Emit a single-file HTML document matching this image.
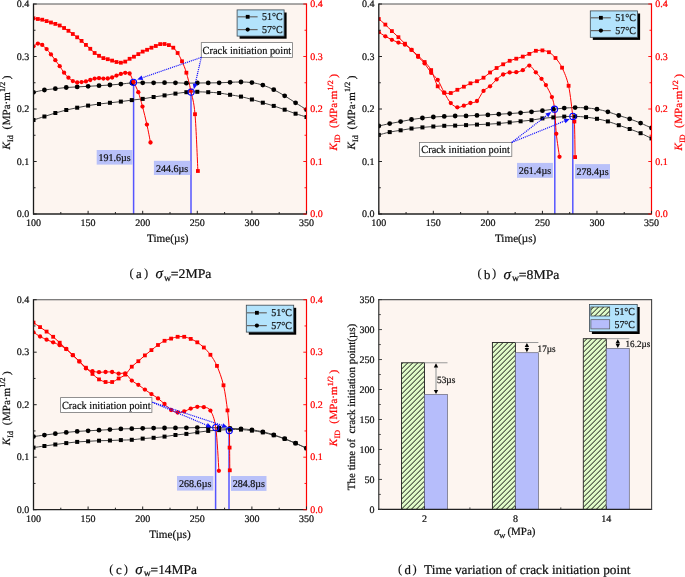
<!DOCTYPE html>
<html><head><meta charset="utf-8"><title>Crack initiation</title><style>html,body{margin:0;padding:0;background:#fff;}body{width:685px;height:577px;overflow:hidden;}svg{display:block;font-family:"Liberation Serif",serif;will-change:transform;text-rendering:geometricPrecision;}text{stroke:#111;stroke-width:0.22px;}text[fill="#ff0000"]{stroke:#ff0000;}</style></head><body>
<svg width="685" height="577" viewBox="0 0 685 577" font-family='"Liberation Serif", serif'>
<defs>
<clipPath id="clipa"><rect x="33.5" y="4" width="273" height="210"/></clipPath>
<clipPath id="clipb"><rect x="378.8" y="4" width="272.7" height="210"/></clipPath>
<clipPath id="clipc"><rect x="33.5" y="299.7" width="273" height="210"/></clipPath>
<pattern id="hatch" patternUnits="userSpaceOnUse" width="5" height="5" x="0" y="0.6"><rect width="5" height="5" fill="#e0fbc9"/><path d="M-1,1 L1,-1 M0,5 L5,0 M4,6 L6,4" stroke="#111" stroke-width="1.0"/></pattern>
</defs>
<rect width="685" height="577" fill="#fff"/>
<rect x="33.5" y="4" width="273" height="210" fill="#fdf5f0"/>
<line x1="133.6" y1="82.3" x2="133.6" y2="214" stroke="#5555ff" stroke-width="1.5"/>
<line x1="191" y1="92.1" x2="191" y2="214" stroke="#5555ff" stroke-width="1.5"/>
<g clip-path="url(#clipa)">
<path d="M33.5,120 C35.32,119.42 40.78,117.67 44.42,116.5 C48.06,115.33 51.7,114.08 55.34,113 C58.98,111.92 62.62,110.88 66.26,110 C69.9,109.12 73.54,108.43 77.18,107.7 C80.82,106.97 84.46,106.22 88.1,105.6 C91.74,104.98 95.38,104.47 99.02,104 C102.66,103.53 106.3,103.2 109.94,102.8 C113.58,102.4 117.22,102.05 120.86,101.6 C124.5,101.15 128.14,100.55 131.78,100.1 C135.42,99.65 139.06,99.42 142.7,98.9 C146.34,98.38 149.98,97.58 153.62,97 C157.26,96.42 160.9,95.97 164.54,95.4 C168.18,94.83 171.82,94.13 175.46,93.6 C179.1,93.07 182.74,92.5 186.38,92.2 C190.02,91.9 193.66,91.8 197.3,91.8 C200.94,91.8 204.58,92 208.22,92.2 C211.86,92.4 215.5,92.57 219.14,93 C222.78,93.43 226.42,94.2 230.06,94.8 C233.7,95.4 237.34,95.82 240.98,96.6 C244.62,97.38 248.26,98.48 251.9,99.5 C255.54,100.52 259.18,101.63 262.82,102.7 C266.46,103.77 270.1,104.73 273.74,105.9 C277.38,107.07 281.02,108.4 284.66,109.7 C288.3,111 291.94,112.48 295.58,113.7 C299.22,114.92 304.68,116.45 306.5,117" fill="none" stroke="#444444" stroke-width="1"/>
<path d="M33.5,92.3 C35.32,91.92 40.78,90.6 44.42,90 C48.06,89.4 51.7,89.12 55.34,88.7 C58.98,88.28 62.62,87.8 66.26,87.5 C69.9,87.2 73.54,87.1 77.18,86.9 C80.82,86.7 84.46,86.5 88.1,86.3 C91.74,86.1 95.38,85.92 99.02,85.7 C102.66,85.48 106.3,85.27 109.94,85 C113.58,84.73 117.22,84.45 120.86,84.1 C124.5,83.75 128.14,83.12 131.78,82.9 C135.42,82.68 139.06,82.82 142.7,82.8 C146.34,82.78 149.98,82.82 153.62,82.8 C157.26,82.78 160.9,82.7 164.54,82.7 C168.18,82.7 171.82,82.72 175.46,82.8 C179.1,82.88 182.74,83.17 186.38,83.2 C190.02,83.23 193.66,83.05 197.3,83 C200.94,82.95 204.58,82.93 208.22,82.9 C211.86,82.87 215.5,82.9 219.14,82.8 C222.78,82.7 226.42,82.43 230.06,82.3 C233.7,82.17 237.34,81.95 240.98,82 C244.62,82.05 248.26,82.08 251.9,82.6 C255.54,83.12 259.18,83.92 262.82,85.1 C266.46,86.28 270.1,87.92 273.74,89.7 C277.38,91.48 281.02,93.62 284.66,95.8 C288.3,97.98 291.94,100.48 295.58,102.8 C299.22,105.12 304.68,108.55 306.5,109.7" fill="none" stroke="#444444" stroke-width="1"/>
<path d="M33.5,18.3 C34.23,18.42 36.41,18.77 37.87,19 C39.32,19.23 40.78,19.35 42.24,19.7 C43.69,20.05 45.15,20.63 46.6,21.1 C48.06,21.57 49.52,22.03 50.97,22.5 C52.43,22.97 53.88,23.4 55.34,23.9 C56.8,24.4 58.25,24.82 59.71,25.5 C61.16,26.18 62.62,27.12 64.08,28 C65.53,28.88 66.99,29.8 68.44,30.8 C69.9,31.8 71.36,32.92 72.81,34 C74.27,35.08 75.72,36.15 77.18,37.3 C78.64,38.45 80.09,39.63 81.55,40.9 C83,42.17 84.46,43.58 85.92,44.9 C87.37,46.22 88.83,47.45 90.28,48.8 C91.74,50.15 93.2,51.83 94.65,53 C96.11,54.17 97.56,54.95 99.02,55.8 C100.48,56.65 101.93,57.53 103.39,58.1 C104.84,58.67 106.3,58.78 107.76,59.2 C109.21,59.62 110.67,60.13 112.12,60.6 C113.58,61.07 115.04,61.65 116.49,62 C117.95,62.35 119.4,62.77 120.86,62.7 C122.32,62.63 123.77,62.25 125.23,61.6 C126.68,60.95 128.14,59.62 129.6,58.8 C131.05,57.98 132.51,57.48 133.96,56.7 C135.42,55.92 136.88,54.95 138.33,54.1 C139.79,53.25 141.24,52.32 142.7,51.6 C144.16,50.88 145.61,50.45 147.07,49.8 C148.52,49.15 149.98,48.33 151.44,47.7 C152.89,47.07 154.35,46.6 155.8,46 C157.26,45.4 158.72,44.43 160.17,44.1 C161.63,43.77 163.08,43.83 164.54,44 C166,44.17 167.45,44.48 168.91,45.1 C170.36,45.72 171.82,46.38 173.28,47.7 C174.73,49.02 176.19,50.73 177.64,53 C179.1,55.27 180.56,58.02 182.01,61.3 C183.47,64.58 184.92,67.82 186.38,72.7 C187.84,77.58 189.36,83.68 190.8,90.6 C192.24,97.52 193.82,100.8 195,114.2 C196.18,127.6 197.42,161.53 197.9,171" fill="none" stroke="#ff0000" stroke-width="1"/>
<path d="M33.5,46.3 C34.23,45.85 36.41,43.83 37.87,43.6 C39.32,43.37 40.78,43.98 42.24,44.9 C43.69,45.82 45.15,47.52 46.6,49.1 C48.06,50.68 49.52,52.55 50.97,54.4 C52.43,56.25 53.88,58.23 55.34,60.2 C56.8,62.17 58.25,64.12 59.71,66.2 C61.16,68.28 62.62,70.78 64.08,72.7 C65.53,74.62 66.99,76.3 68.44,77.7 C69.9,79.1 71.36,80.3 72.81,81.1 C74.27,81.9 75.72,82.33 77.18,82.5 C78.64,82.67 80.09,82.28 81.55,82.1 C83,81.92 84.46,81.75 85.92,81.4 C87.37,81.05 88.83,80.47 90.28,80 C91.74,79.53 93.2,78.9 94.65,78.6 C96.11,78.3 97.56,78.2 99.02,78.2 C100.48,78.2 101.93,78.55 103.39,78.6 C104.84,78.65 106.3,78.68 107.76,78.5 C109.21,78.32 110.67,77.98 112.12,77.5 C113.58,77.02 115.04,76.2 116.49,75.6 C117.95,75 119.4,74.37 120.86,73.9 C122.32,73.43 123.77,72.87 125.23,72.8 C126.68,72.73 128.22,71.98 129.6,73.5 C130.97,75.02 132.05,78.78 133.5,81.9 C134.95,85.02 136.8,88.08 138.3,92.2 C139.8,96.32 141.07,101.2 142.5,106.6 C143.93,112 145.57,118.62 146.9,124.6 C148.23,130.58 149.9,139.52 150.5,142.5" fill="none" stroke="#ff0000" stroke-width="1"/>
<g fill="#000"><rect x="31.5" y="118" width="4" height="4"/><rect x="42.42" y="114.5" width="4" height="4"/><rect x="53.34" y="111" width="4" height="4"/><rect x="64.26" y="108" width="4" height="4"/><rect x="75.18" y="105.7" width="4" height="4"/><rect x="86.1" y="103.6" width="4" height="4"/><rect x="97.02" y="102" width="4" height="4"/><rect x="107.94" y="100.8" width="4" height="4"/><rect x="118.86" y="99.6" width="4" height="4"/><rect x="129.78" y="98.1" width="4" height="4"/><rect x="140.7" y="96.9" width="4" height="4"/><rect x="151.62" y="95" width="4" height="4"/><rect x="162.54" y="93.4" width="4" height="4"/><rect x="173.46" y="91.6" width="4" height="4"/><rect x="184.38" y="90.2" width="4" height="4"/><rect x="195.3" y="89.8" width="4" height="4"/><rect x="206.22" y="90.2" width="4" height="4"/><rect x="217.14" y="91" width="4" height="4"/><rect x="228.06" y="92.8" width="4" height="4"/><rect x="238.98" y="94.6" width="4" height="4"/><rect x="249.9" y="97.5" width="4" height="4"/><rect x="260.82" y="100.7" width="4" height="4"/><rect x="271.74" y="103.9" width="4" height="4"/><rect x="282.66" y="107.7" width="4" height="4"/><rect x="293.58" y="111.7" width="4" height="4"/><rect x="304.5" y="115" width="4" height="4"/><circle cx="33.5" cy="92.3" r="2.4"/><circle cx="44.42" cy="90" r="2.4"/><circle cx="55.34" cy="88.7" r="2.4"/><circle cx="66.26" cy="87.5" r="2.4"/><circle cx="77.18" cy="86.9" r="2.4"/><circle cx="88.1" cy="86.3" r="2.4"/><circle cx="99.02" cy="85.7" r="2.4"/><circle cx="109.94" cy="85" r="2.4"/><circle cx="120.86" cy="84.1" r="2.4"/><circle cx="131.78" cy="82.9" r="2.4"/><circle cx="142.7" cy="82.8" r="2.4"/><circle cx="153.62" cy="82.8" r="2.4"/><circle cx="164.54" cy="82.7" r="2.4"/><circle cx="175.46" cy="82.8" r="2.4"/><circle cx="186.38" cy="83.2" r="2.4"/><circle cx="197.3" cy="83" r="2.4"/><circle cx="208.22" cy="82.9" r="2.4"/><circle cx="219.14" cy="82.8" r="2.4"/><circle cx="230.06" cy="82.3" r="2.4"/><circle cx="240.98" cy="82" r="2.4"/><circle cx="251.9" cy="82.6" r="2.4"/><circle cx="262.82" cy="85.1" r="2.4"/><circle cx="273.74" cy="89.7" r="2.4"/><circle cx="284.66" cy="95.8" r="2.4"/><circle cx="295.58" cy="102.8" r="2.4"/><circle cx="306.5" cy="109.7" r="2.4"/></g>
<g fill="#ff0000"><rect x="31.6" y="16.4" width="3.8" height="3.8"/><rect x="35.97" y="17.1" width="3.8" height="3.8"/><rect x="40.34" y="17.8" width="3.8" height="3.8"/><rect x="44.7" y="19.2" width="3.8" height="3.8"/><rect x="49.07" y="20.6" width="3.8" height="3.8"/><rect x="53.44" y="22" width="3.8" height="3.8"/><rect x="57.81" y="23.6" width="3.8" height="3.8"/><rect x="62.18" y="26.1" width="3.8" height="3.8"/><rect x="66.54" y="28.9" width="3.8" height="3.8"/><rect x="70.91" y="32.1" width="3.8" height="3.8"/><rect x="75.28" y="35.4" width="3.8" height="3.8"/><rect x="79.65" y="39" width="3.8" height="3.8"/><rect x="84.02" y="43" width="3.8" height="3.8"/><rect x="88.38" y="46.9" width="3.8" height="3.8"/><rect x="92.75" y="51.1" width="3.8" height="3.8"/><rect x="97.12" y="53.9" width="3.8" height="3.8"/><rect x="101.49" y="56.2" width="3.8" height="3.8"/><rect x="105.86" y="57.3" width="3.8" height="3.8"/><rect x="110.22" y="58.7" width="3.8" height="3.8"/><rect x="114.59" y="60.1" width="3.8" height="3.8"/><rect x="118.96" y="60.8" width="3.8" height="3.8"/><rect x="123.33" y="59.7" width="3.8" height="3.8"/><rect x="127.7" y="56.9" width="3.8" height="3.8"/><rect x="132.06" y="54.8" width="3.8" height="3.8"/><rect x="136.43" y="52.2" width="3.8" height="3.8"/><rect x="140.8" y="49.7" width="3.8" height="3.8"/><rect x="145.17" y="47.9" width="3.8" height="3.8"/><rect x="149.54" y="45.8" width="3.8" height="3.8"/><rect x="153.9" y="44.1" width="3.8" height="3.8"/><rect x="158.27" y="42.2" width="3.8" height="3.8"/><rect x="162.64" y="42.1" width="3.8" height="3.8"/><rect x="167.01" y="43.2" width="3.8" height="3.8"/><rect x="171.38" y="45.8" width="3.8" height="3.8"/><rect x="175.74" y="51.1" width="3.8" height="3.8"/><rect x="180.11" y="59.4" width="3.8" height="3.8"/><rect x="184.48" y="70.8" width="3.8" height="3.8"/><rect x="188.9" y="88.7" width="3.8" height="3.8"/><rect x="193.1" y="112.3" width="3.8" height="3.8"/><rect x="196" y="169.1" width="3.8" height="3.8"/><circle cx="33.5" cy="46.3" r="2.15"/><circle cx="37.87" cy="43.6" r="2.15"/><circle cx="42.24" cy="44.9" r="2.15"/><circle cx="46.6" cy="49.1" r="2.15"/><circle cx="50.97" cy="54.4" r="2.15"/><circle cx="55.34" cy="60.2" r="2.15"/><circle cx="59.71" cy="66.2" r="2.15"/><circle cx="64.08" cy="72.7" r="2.15"/><circle cx="68.44" cy="77.7" r="2.15"/><circle cx="72.81" cy="81.1" r="2.15"/><circle cx="77.18" cy="82.5" r="2.15"/><circle cx="81.55" cy="82.1" r="2.15"/><circle cx="85.92" cy="81.4" r="2.15"/><circle cx="90.28" cy="80" r="2.15"/><circle cx="94.65" cy="78.6" r="2.15"/><circle cx="99.02" cy="78.2" r="2.15"/><circle cx="103.39" cy="78.6" r="2.15"/><circle cx="107.76" cy="78.5" r="2.15"/><circle cx="112.12" cy="77.5" r="2.15"/><circle cx="116.49" cy="75.6" r="2.15"/><circle cx="120.86" cy="73.9" r="2.15"/><circle cx="125.23" cy="72.8" r="2.15"/><circle cx="129.6" cy="73.5" r="2.15"/><circle cx="133.5" cy="81.9" r="2.15"/><circle cx="138.3" cy="92.2" r="2.15"/><circle cx="142.5" cy="106.6" r="2.15"/><circle cx="146.9" cy="124.6" r="2.15"/><circle cx="150.5" cy="142.5" r="2.15"/></g>
</g>
<circle cx="133.5" cy="82.3" r="3.1" fill="none" stroke="#0000ff" stroke-width="1.1"/>
<circle cx="191.1" cy="92.1" r="3.1" fill="none" stroke="#0000ff" stroke-width="1.1"/>
<rect x="96.7" y="150" width="35.9" height="14.6" fill="#b9c1f9"/>
<text x="114.65" y="161.1" font-size="10.3" text-anchor="middle" fill="#111" textLength="32.2" lengthAdjust="spacingAndGlyphs">191.6µs</text>
<rect x="153.9" y="160.8" width="36.3" height="14.2" fill="#b9c1f9"/>
<text x="172.05" y="171.5" font-size="10.3" text-anchor="middle" fill="#111" textLength="32.2" lengthAdjust="spacingAndGlyphs">244.6µs</text>
<rect x="201.3" y="42.6" width="91.2" height="14.8" fill="#fff" stroke="#777" stroke-width="0.8"/>
<text x="246.9" y="53.9" font-size="10.9" text-anchor="middle" fill="#111" textLength="88.6" lengthAdjust="spacingAndGlyphs">Crack initiation point</text>
<line x1="201.3" y1="57.4" x2="142.4" y2="77.71" stroke="#1010ff" stroke-width="1.2" stroke-dasharray="1.1,0.9"/>
<polygon points="137.2,79.5 141.62,75.44 143.18,79.98" fill="#1111ff"/>
<line x1="201.3" y1="57.4" x2="195.14" y2="83.94" stroke="#1010ff" stroke-width="1.2" stroke-dasharray="1.1,0.9"/>
<polygon points="193.9,89.3 192.8,83.4 197.48,84.48" fill="#1111ff"/>
<rect x="239.6" y="12.5" width="47" height="26.2" fill="#000"/>
<rect x="237.1" y="9.9" width="47" height="26.2" fill="#b3e3fc" stroke="#3c4850" stroke-width="0.8"/>
<line x1="237.6" y1="16.8" x2="257.6" y2="16.8" stroke="#666" stroke-width="1.2"/>
<line x1="237.6" y1="29.6" x2="257.6" y2="29.6" stroke="#666" stroke-width="1.2"/>
<rect x="245.8" y="14.9" width="3.8" height="3.8" fill="#000"/>
<circle cx="247.7" cy="29.6" r="2.1" fill="#000"/>
<text x="262.1" y="20.4" font-size="10.6" text-anchor="start" fill="#111" textLength="20.6" lengthAdjust="spacingAndGlyphs">51°C</text>
<text x="262.1" y="33.2" font-size="10.6" text-anchor="start" fill="#111" textLength="20.6" lengthAdjust="spacingAndGlyphs">57°C</text>
<line x1="33.5" y1="4" x2="306.5" y2="4" stroke="#555" stroke-width="1.1"/>
<line x1="33.5" y1="3.5" x2="33.5" y2="214.5" stroke="#1a1a1a" stroke-width="1.3"/>
<line x1="33" y1="214" x2="306.5" y2="214" stroke="#222" stroke-width="1.3"/>
<line x1="306.5" y1="3.5" x2="306.5" y2="214.5" stroke="#ff0000" stroke-width="1.2"/>
<line x1="33.5" y1="214" x2="33.5" y2="210.8" stroke="#222" stroke-width="1"/>
<text x="33.5" y="226" font-size="10" text-anchor="middle" fill="#111" >100</text>
<line x1="60.8" y1="214" x2="60.8" y2="212" stroke="#222" stroke-width="1"/>
<line x1="88.1" y1="214" x2="88.1" y2="210.8" stroke="#222" stroke-width="1"/>
<text x="88.1" y="226" font-size="10" text-anchor="middle" fill="#111" >150</text>
<line x1="115.4" y1="214" x2="115.4" y2="212" stroke="#222" stroke-width="1"/>
<line x1="142.7" y1="214" x2="142.7" y2="210.8" stroke="#222" stroke-width="1"/>
<text x="142.7" y="226" font-size="10" text-anchor="middle" fill="#111" >200</text>
<line x1="170" y1="214" x2="170" y2="212" stroke="#222" stroke-width="1"/>
<line x1="197.3" y1="214" x2="197.3" y2="210.8" stroke="#222" stroke-width="1"/>
<text x="197.3" y="226" font-size="10" text-anchor="middle" fill="#111" >250</text>
<line x1="224.6" y1="214" x2="224.6" y2="212" stroke="#222" stroke-width="1"/>
<line x1="251.9" y1="214" x2="251.9" y2="210.8" stroke="#222" stroke-width="1"/>
<text x="251.9" y="226" font-size="10" text-anchor="middle" fill="#111" >300</text>
<line x1="279.2" y1="214" x2="279.2" y2="212" stroke="#222" stroke-width="1"/>
<line x1="306.5" y1="214" x2="306.5" y2="210.8" stroke="#222" stroke-width="1"/>
<text x="306.5" y="226" font-size="10" text-anchor="middle" fill="#111" >350</text>
<line x1="33.5" y1="214" x2="36.7" y2="214" stroke="#222" stroke-width="1"/>
<line x1="306.5" y1="214" x2="303.3" y2="214" stroke="#ff0000" stroke-width="0.9"/>
<text x="29.3" y="217.2" font-size="10" text-anchor="end" fill="#111" >0.0</text>
<text x="310.3" y="217.2" font-size="10" text-anchor="start" fill="#ff0000" >0.0</text>
<line x1="33.5" y1="187.75" x2="35.5" y2="187.75" stroke="#222" stroke-width="1"/>
<line x1="306.5" y1="187.75" x2="304.5" y2="187.75" stroke="#ff0000" stroke-width="0.9"/>
<line x1="33.5" y1="161.5" x2="36.7" y2="161.5" stroke="#222" stroke-width="1"/>
<line x1="306.5" y1="161.5" x2="303.3" y2="161.5" stroke="#ff0000" stroke-width="0.9"/>
<text x="29.3" y="164.7" font-size="10" text-anchor="end" fill="#111" >0.1</text>
<text x="310.3" y="164.7" font-size="10" text-anchor="start" fill="#ff0000" >0.1</text>
<line x1="33.5" y1="135.25" x2="35.5" y2="135.25" stroke="#222" stroke-width="1"/>
<line x1="306.5" y1="135.25" x2="304.5" y2="135.25" stroke="#ff0000" stroke-width="0.9"/>
<line x1="33.5" y1="109" x2="36.7" y2="109" stroke="#222" stroke-width="1"/>
<line x1="306.5" y1="109" x2="303.3" y2="109" stroke="#ff0000" stroke-width="0.9"/>
<text x="29.3" y="112.2" font-size="10" text-anchor="end" fill="#111" >0.2</text>
<text x="310.3" y="112.2" font-size="10" text-anchor="start" fill="#ff0000" >0.2</text>
<line x1="33.5" y1="82.75" x2="35.5" y2="82.75" stroke="#222" stroke-width="1"/>
<line x1="306.5" y1="82.75" x2="304.5" y2="82.75" stroke="#ff0000" stroke-width="0.9"/>
<line x1="33.5" y1="56.5" x2="36.7" y2="56.5" stroke="#222" stroke-width="1"/>
<line x1="306.5" y1="56.5" x2="303.3" y2="56.5" stroke="#ff0000" stroke-width="0.9"/>
<text x="29.3" y="59.7" font-size="10" text-anchor="end" fill="#111" >0.3</text>
<text x="310.3" y="59.7" font-size="10" text-anchor="start" fill="#ff0000" >0.3</text>
<line x1="33.5" y1="30.25" x2="35.5" y2="30.25" stroke="#222" stroke-width="1"/>
<line x1="306.5" y1="30.25" x2="304.5" y2="30.25" stroke="#ff0000" stroke-width="0.9"/>
<line x1="33.5" y1="4" x2="36.7" y2="4" stroke="#222" stroke-width="1"/>
<line x1="306.5" y1="4" x2="303.3" y2="4" stroke="#ff0000" stroke-width="0.9"/>
<text x="29.3" y="7.2" font-size="10" text-anchor="end" fill="#111" >0.4</text>
<text x="310.3" y="7.2" font-size="10" text-anchor="start" fill="#ff0000" >0.4</text>
<text x="167.8" y="242.3" font-size="11.4" text-anchor="middle" fill="#111" textLength="41.4" lengthAdjust="spacingAndGlyphs">Time(µs)</text>
<g transform="translate(9.6,112.6) rotate(-90)"><text x="0" y="0" font-size="11" text-anchor="middle" fill="#111"><tspan font-style="italic">K</tspan><tspan font-size="8" dy="3.2" dx="0.3">Id</tspan><tspan dy="-3.2" dx="5.8">(</tspan><tspan dx="0.6">MPa·m</tspan><tspan font-size="8" dy="-4.6" dx="0.3">1/2</tspan><tspan dy="4.6" dx="2.4">)</tspan></text></g>
<g transform="translate(337.2,112.3) rotate(-90)"><text x="0" y="0" font-size="11" text-anchor="middle" fill="#ff0000"><tspan font-style="italic">K</tspan><tspan font-size="8" dy="3.2" dx="0.3">ID</tspan><tspan dy="-3.2" dx="6.4">(</tspan><tspan dx="0.6">MPa·m</tspan><tspan font-size="8" dy="-4.6" dx="0.3">1/2</tspan><tspan dy="4.6" dx="2.4">)</tspan></text></g>
<rect x="378.8" y="4" width="272.7" height="210" fill="#fdf5f0"/>
<line x1="554.8" y1="109.2" x2="554.8" y2="214" stroke="#5555ff" stroke-width="1.5"/>
<line x1="572.8" y1="116.4" x2="572.8" y2="214" stroke="#5555ff" stroke-width="1.5"/>
<g clip-path="url(#clipb)">
<path d="M378.8,134.9 C380.62,134.43 386.07,132.87 389.71,132.1 C393.34,131.33 396.98,130.9 400.62,130.3 C404.25,129.7 407.89,128.98 411.52,128.5 C415.16,128.02 418.8,127.73 422.43,127.4 C426.07,127.07 429.7,126.77 433.34,126.5 C436.98,126.23 440.61,125.95 444.25,125.8 C447.88,125.65 451.52,125.72 455.16,125.6 C458.79,125.48 462.43,125.27 466.06,125.1 C469.7,124.93 473.34,124.75 476.97,124.6 C480.61,124.45 484.24,124.38 487.88,124.2 C491.52,124.02 495.15,123.8 498.79,123.5 C502.42,123.2 506.06,122.77 509.7,122.4 C513.33,122.03 516.97,121.67 520.6,121.3 C524.24,120.93 527.88,120.68 531.51,120.2 C535.15,119.72 538.78,118.87 542.42,118.4 C546.06,117.93 549.69,117.7 553.33,117.4 C556.96,117.1 560.6,116.77 564.24,116.6 C567.87,116.43 571.51,116.32 575.14,116.4 C578.78,116.48 582.42,116.7 586.05,117.1 C589.69,117.5 593.32,118.08 596.96,118.8 C600.6,119.52 604.23,120.33 607.87,121.4 C611.5,122.47 615.14,123.93 618.78,125.2 C622.41,126.47 626.05,127.67 629.68,129 C633.32,130.33 636.96,131.63 640.59,133.2 C644.23,134.77 649.68,137.53 651.5,138.4" fill="none" stroke="#444444" stroke-width="1"/>
<path d="M378.8,126 C380.62,125.6 386.07,124.33 389.71,123.6 C393.34,122.87 396.98,122.28 400.62,121.6 C404.25,120.92 407.89,120.1 411.52,119.5 C415.16,118.9 418.8,118.42 422.43,118 C426.07,117.58 429.7,117.27 433.34,117 C436.98,116.73 440.61,116.57 444.25,116.4 C447.88,116.23 451.52,116.08 455.16,116 C458.79,115.92 462.43,116 466.06,115.9 C469.7,115.8 473.34,115.57 476.97,115.4 C480.61,115.23 484.24,115.1 487.88,114.9 C491.52,114.7 495.15,114.42 498.79,114.2 C502.42,113.98 506.06,113.83 509.7,113.6 C513.33,113.37 516.97,113.1 520.6,112.8 C524.24,112.5 527.88,112.15 531.51,111.8 C535.15,111.45 538.78,111.13 542.42,110.7 C546.06,110.27 549.69,109.63 553.33,109.2 C556.96,108.77 560.6,108.37 564.24,108.1 C567.87,107.83 571.51,107.63 575.14,107.6 C578.78,107.57 582.42,107.63 586.05,107.9 C589.69,108.17 593.32,108.55 596.96,109.2 C600.6,109.85 604.23,110.75 607.87,111.8 C611.5,112.85 615.14,114.32 618.78,115.5 C622.41,116.68 626.05,117.63 629.68,118.9 C633.32,120.17 636.96,121.58 640.59,123.1 C644.23,124.62 649.68,127.18 651.5,128" fill="none" stroke="#444444" stroke-width="1"/>
<path d="M378.8,19 C379.89,19.93 383.16,22.58 385.34,24.6 C387.53,26.62 389.71,29 391.89,31.1 C394.07,33.2 396.25,35.1 398.43,37.2 C400.62,39.3 402.8,41.6 404.98,43.7 C407.16,45.8 409.34,47.78 411.52,49.8 C413.71,51.82 415.89,53.77 418.07,55.8 C420.25,57.83 422.43,59.62 424.61,62 C426.8,64.38 428.98,66.05 431.16,70.1 C433.34,74.15 435.52,82.53 437.7,86.3 C439.88,90.07 442.07,91.58 444.25,92.7 C446.43,93.82 448.61,93.48 450.79,93 C452.97,92.52 455.16,90.85 457.34,89.8 C459.52,88.75 461.7,87.78 463.88,86.7 C466.06,85.62 468.25,84.22 470.43,83.3 C472.61,82.38 474.79,82.13 476.97,81.2 C479.15,80.27 481.34,79.15 483.52,77.7 C485.7,76.25 487.88,74.12 490.06,72.5 C492.24,70.88 494.42,69.37 496.61,68 C498.79,66.63 500.97,65.5 503.15,64.3 C505.33,63.1 507.51,61.73 509.7,60.8 C511.88,59.87 514.06,59.4 516.24,58.7 C518.42,58 520.6,57.4 522.79,56.6 C524.97,55.8 527.15,54.87 529.33,53.9 C531.51,52.93 533.69,51.38 535.88,50.8 C538.06,50.22 540.24,50.17 542.42,50.4 C544.6,50.63 546.78,50.93 548.96,52.2 C551.15,53.47 553.33,55.42 555.51,58 C557.69,60.58 559.87,63.07 562.05,67.7 C564.24,72.33 566.79,77.68 568.6,85.8 C570.41,93.92 571.93,110.45 572.9,116.4 C573.87,122.35 574.03,114.72 574.4,121.5 C574.77,128.28 574.98,151.17 575.1,157.1" fill="none" stroke="#ff0000" stroke-width="1"/>
<path d="M378.8,32.2 C379.89,32.88 383.16,35.03 385.34,36.3 C387.53,37.57 389.71,38.75 391.89,39.8 C394.07,40.85 396.25,41.78 398.43,42.6 C400.62,43.42 402.8,43.5 404.98,44.7 C407.16,45.9 409.34,47.77 411.52,49.8 C413.71,51.83 415.89,54.63 418.07,56.9 C420.25,59.17 422.43,60.73 424.61,63.4 C426.8,66.07 428.98,70.17 431.16,72.9 C433.34,75.63 435.52,76.5 437.7,79.8 C439.88,83.1 442.07,88.82 444.25,92.7 C446.43,96.58 448.61,100.67 450.79,103.1 C452.97,105.53 455.16,106.87 457.34,107.3 C459.52,107.73 461.7,106.42 463.88,105.7 C466.06,104.98 468.25,103.78 470.43,103 C472.61,102.22 474.79,103.02 476.97,101 C479.15,98.98 481.34,93.35 483.52,90.9 C485.7,88.45 487.88,88.22 490.06,86.3 C492.24,84.38 494.42,81.37 496.61,79.4 C498.79,77.43 500.97,75.67 503.15,74.5 C505.33,73.33 507.51,72.78 509.7,72.4 C511.88,72.02 514.06,72.57 516.24,72.2 C518.42,71.83 520.6,71.3 522.79,70.2 C524.97,69.1 527.16,65.25 529.33,65.6 C531.5,65.95 533.77,70.1 535.8,72.3 C537.83,74.5 539.82,76.67 541.5,78.8 C543.18,80.93 544.17,82.05 545.9,85.1 C547.63,88.15 550.45,93.08 551.9,97.1 C553.35,101.12 553.87,103.08 554.6,109.2 C555.33,115.32 555.48,125.87 556.3,133.8 C557.12,141.73 558.97,152.97 559.5,156.8" fill="none" stroke="#ff0000" stroke-width="1"/>
<g fill="#000"><rect x="376.8" y="132.9" width="4" height="4"/><rect x="387.71" y="130.1" width="4" height="4"/><rect x="398.62" y="128.3" width="4" height="4"/><rect x="409.52" y="126.5" width="4" height="4"/><rect x="420.43" y="125.4" width="4" height="4"/><rect x="431.34" y="124.5" width="4" height="4"/><rect x="442.25" y="123.8" width="4" height="4"/><rect x="453.16" y="123.6" width="4" height="4"/><rect x="464.06" y="123.1" width="4" height="4"/><rect x="474.97" y="122.6" width="4" height="4"/><rect x="485.88" y="122.2" width="4" height="4"/><rect x="496.79" y="121.5" width="4" height="4"/><rect x="507.7" y="120.4" width="4" height="4"/><rect x="518.6" y="119.3" width="4" height="4"/><rect x="529.51" y="118.2" width="4" height="4"/><rect x="540.42" y="116.4" width="4" height="4"/><rect x="551.33" y="115.4" width="4" height="4"/><rect x="562.24" y="114.6" width="4" height="4"/><rect x="573.14" y="114.4" width="4" height="4"/><rect x="584.05" y="115.1" width="4" height="4"/><rect x="594.96" y="116.8" width="4" height="4"/><rect x="605.87" y="119.4" width="4" height="4"/><rect x="616.78" y="123.2" width="4" height="4"/><rect x="627.68" y="127" width="4" height="4"/><rect x="638.59" y="131.2" width="4" height="4"/><rect x="649.5" y="136.4" width="4" height="4"/><circle cx="378.8" cy="126" r="2.4"/><circle cx="389.71" cy="123.6" r="2.4"/><circle cx="400.62" cy="121.6" r="2.4"/><circle cx="411.52" cy="119.5" r="2.4"/><circle cx="422.43" cy="118" r="2.4"/><circle cx="433.34" cy="117" r="2.4"/><circle cx="444.25" cy="116.4" r="2.4"/><circle cx="455.16" cy="116" r="2.4"/><circle cx="466.06" cy="115.9" r="2.4"/><circle cx="476.97" cy="115.4" r="2.4"/><circle cx="487.88" cy="114.9" r="2.4"/><circle cx="498.79" cy="114.2" r="2.4"/><circle cx="509.7" cy="113.6" r="2.4"/><circle cx="520.6" cy="112.8" r="2.4"/><circle cx="531.51" cy="111.8" r="2.4"/><circle cx="542.42" cy="110.7" r="2.4"/><circle cx="553.33" cy="109.2" r="2.4"/><circle cx="564.24" cy="108.1" r="2.4"/><circle cx="575.14" cy="107.6" r="2.4"/><circle cx="586.05" cy="107.9" r="2.4"/><circle cx="596.96" cy="109.2" r="2.4"/><circle cx="607.87" cy="111.8" r="2.4"/><circle cx="618.78" cy="115.5" r="2.4"/><circle cx="629.68" cy="118.9" r="2.4"/><circle cx="640.59" cy="123.1" r="2.4"/><circle cx="651.5" cy="128" r="2.4"/></g>
<g fill="#ff0000"><rect x="376.9" y="17.1" width="3.8" height="3.8"/><rect x="383.44" y="22.7" width="3.8" height="3.8"/><rect x="389.99" y="29.2" width="3.8" height="3.8"/><rect x="396.53" y="35.3" width="3.8" height="3.8"/><rect x="403.08" y="41.8" width="3.8" height="3.8"/><rect x="409.62" y="47.9" width="3.8" height="3.8"/><rect x="416.17" y="53.9" width="3.8" height="3.8"/><rect x="422.71" y="60.1" width="3.8" height="3.8"/><rect x="429.26" y="68.2" width="3.8" height="3.8"/><rect x="435.8" y="84.4" width="3.8" height="3.8"/><rect x="442.35" y="90.8" width="3.8" height="3.8"/><rect x="448.89" y="91.1" width="3.8" height="3.8"/><rect x="455.44" y="87.9" width="3.8" height="3.8"/><rect x="461.98" y="84.8" width="3.8" height="3.8"/><rect x="468.53" y="81.4" width="3.8" height="3.8"/><rect x="475.07" y="79.3" width="3.8" height="3.8"/><rect x="481.62" y="75.8" width="3.8" height="3.8"/><rect x="488.16" y="70.6" width="3.8" height="3.8"/><rect x="494.71" y="66.1" width="3.8" height="3.8"/><rect x="501.25" y="62.4" width="3.8" height="3.8"/><rect x="507.8" y="58.9" width="3.8" height="3.8"/><rect x="514.34" y="56.8" width="3.8" height="3.8"/><rect x="520.89" y="54.7" width="3.8" height="3.8"/><rect x="527.43" y="52" width="3.8" height="3.8"/><rect x="533.98" y="48.9" width="3.8" height="3.8"/><rect x="540.52" y="48.5" width="3.8" height="3.8"/><rect x="547.06" y="50.3" width="3.8" height="3.8"/><rect x="553.61" y="56.1" width="3.8" height="3.8"/><rect x="560.15" y="65.8" width="3.8" height="3.8"/><rect x="566.7" y="83.9" width="3.8" height="3.8"/><rect x="572.5" y="119.6" width="3.8" height="3.8"/><rect x="573.2" y="155.2" width="3.8" height="3.8"/><circle cx="378.8" cy="32.2" r="2.15"/><circle cx="385.34" cy="36.3" r="2.15"/><circle cx="391.89" cy="39.8" r="2.15"/><circle cx="398.43" cy="42.6" r="2.15"/><circle cx="404.98" cy="44.7" r="2.15"/><circle cx="411.52" cy="49.8" r="2.15"/><circle cx="418.07" cy="56.9" r="2.15"/><circle cx="424.61" cy="63.4" r="2.15"/><circle cx="431.16" cy="72.9" r="2.15"/><circle cx="437.7" cy="79.8" r="2.15"/><circle cx="444.25" cy="92.7" r="2.15"/><circle cx="450.79" cy="103.1" r="2.15"/><circle cx="457.34" cy="107.3" r="2.15"/><circle cx="463.88" cy="105.7" r="2.15"/><circle cx="470.43" cy="103" r="2.15"/><circle cx="476.97" cy="101" r="2.15"/><circle cx="483.52" cy="90.9" r="2.15"/><circle cx="490.06" cy="86.3" r="2.15"/><circle cx="496.61" cy="79.4" r="2.15"/><circle cx="503.15" cy="74.5" r="2.15"/><circle cx="509.7" cy="72.4" r="2.15"/><circle cx="516.24" cy="72.2" r="2.15"/><circle cx="522.79" cy="70.2" r="2.15"/><circle cx="529.33" cy="65.6" r="2.15"/><circle cx="535.8" cy="72.3" r="2.15"/><circle cx="541.5" cy="78.8" r="2.15"/><circle cx="545.9" cy="85.1" r="2.15"/><circle cx="551.9" cy="97.1" r="2.15"/><circle cx="556.3" cy="133.8" r="2.15"/><circle cx="559.5" cy="156.8" r="2.15"/></g>
</g>
<circle cx="554.5" cy="109.2" r="3.1" fill="none" stroke="#0000ff" stroke-width="1.1"/>
<circle cx="572.9" cy="116.4" r="3.1" fill="none" stroke="#0000ff" stroke-width="1.1"/>
<rect x="517" y="162.9" width="35.9" height="14.9" fill="#b9c1f9"/>
<text x="534.95" y="174.3" font-size="10.3" text-anchor="middle" fill="#111" textLength="32.2" lengthAdjust="spacingAndGlyphs">261.4µs</text>
<rect x="575" y="164.1" width="35" height="14.6" fill="#b9c1f9"/>
<text x="592.5" y="175.2" font-size="10.3" text-anchor="middle" fill="#111" textLength="32.2" lengthAdjust="spacingAndGlyphs">278.4µs</text>
<rect x="419.4" y="142.4" width="92.4" height="14" fill="#fff" stroke="#777" stroke-width="0.8"/>
<text x="465.6" y="152.9" font-size="10.9" text-anchor="middle" fill="#111" textLength="88.6" lengthAdjust="spacingAndGlyphs">Crack initiation point</text>
<line x1="511.8" y1="142.4" x2="546.85" y2="115.36" stroke="#1010ff" stroke-width="1.2" stroke-dasharray="1.1,0.9"/>
<polygon points="551.2,112 548.31,117.26 545.38,113.46" fill="#1111ff"/>
<line x1="511.8" y1="142.4" x2="564.6" y2="120.97" stroke="#1010ff" stroke-width="1.2" stroke-dasharray="1.1,0.9"/>
<polygon points="569.7,118.9 565.51,123.19 563.7,118.74" fill="#1111ff"/>
<rect x="592.8" y="13.5" width="47.3" height="26.4" fill="#000"/>
<rect x="590.3" y="10.9" width="47.3" height="26.4" fill="#b3e3fc" stroke="#3c4850" stroke-width="0.8"/>
<line x1="590.8" y1="17.8" x2="610.8" y2="17.8" stroke="#666" stroke-width="1.2"/>
<line x1="590.8" y1="30.6" x2="610.8" y2="30.6" stroke="#666" stroke-width="1.2"/>
<rect x="599" y="15.9" width="3.8" height="3.8" fill="#000"/>
<circle cx="600.9" cy="30.6" r="2.1" fill="#000"/>
<text x="615.3" y="21.4" font-size="10.6" text-anchor="start" fill="#111" textLength="20.6" lengthAdjust="spacingAndGlyphs">51°C</text>
<text x="615.3" y="34.2" font-size="10.6" text-anchor="start" fill="#111" textLength="20.6" lengthAdjust="spacingAndGlyphs">57°C</text>
<line x1="378.8" y1="4" x2="651.5" y2="4" stroke="#555" stroke-width="1.1"/>
<line x1="378.8" y1="3.5" x2="378.8" y2="214.5" stroke="#1a1a1a" stroke-width="1.3"/>
<line x1="378.3" y1="214" x2="651.5" y2="214" stroke="#222" stroke-width="1.3"/>
<line x1="651.5" y1="3.5" x2="651.5" y2="214.5" stroke="#ff0000" stroke-width="1.2"/>
<line x1="378.8" y1="214" x2="378.8" y2="210.8" stroke="#222" stroke-width="1"/>
<text x="378.8" y="226" font-size="10" text-anchor="middle" fill="#111" >100</text>
<line x1="406.07" y1="214" x2="406.07" y2="212" stroke="#222" stroke-width="1"/>
<line x1="433.34" y1="214" x2="433.34" y2="210.8" stroke="#222" stroke-width="1"/>
<text x="433.34" y="226" font-size="10" text-anchor="middle" fill="#111" >150</text>
<line x1="460.61" y1="214" x2="460.61" y2="212" stroke="#222" stroke-width="1"/>
<line x1="487.88" y1="214" x2="487.88" y2="210.8" stroke="#222" stroke-width="1"/>
<text x="487.88" y="226" font-size="10" text-anchor="middle" fill="#111" >200</text>
<line x1="515.15" y1="214" x2="515.15" y2="212" stroke="#222" stroke-width="1"/>
<line x1="542.42" y1="214" x2="542.42" y2="210.8" stroke="#222" stroke-width="1"/>
<text x="542.42" y="226" font-size="10" text-anchor="middle" fill="#111" >250</text>
<line x1="569.69" y1="214" x2="569.69" y2="212" stroke="#222" stroke-width="1"/>
<line x1="596.96" y1="214" x2="596.96" y2="210.8" stroke="#222" stroke-width="1"/>
<text x="596.96" y="226" font-size="10" text-anchor="middle" fill="#111" >300</text>
<line x1="624.23" y1="214" x2="624.23" y2="212" stroke="#222" stroke-width="1"/>
<line x1="651.5" y1="214" x2="651.5" y2="210.8" stroke="#222" stroke-width="1"/>
<text x="651.5" y="226" font-size="10" text-anchor="middle" fill="#111" >350</text>
<line x1="378.8" y1="214" x2="382" y2="214" stroke="#222" stroke-width="1"/>
<line x1="651.5" y1="214" x2="648.3" y2="214" stroke="#ff0000" stroke-width="0.9"/>
<text x="374.6" y="217.2" font-size="10" text-anchor="end" fill="#111" >0.0</text>
<text x="655.3" y="217.2" font-size="10" text-anchor="start" fill="#ff0000" >0.0</text>
<line x1="378.8" y1="187.75" x2="380.8" y2="187.75" stroke="#222" stroke-width="1"/>
<line x1="651.5" y1="187.75" x2="649.5" y2="187.75" stroke="#ff0000" stroke-width="0.9"/>
<line x1="378.8" y1="161.5" x2="382" y2="161.5" stroke="#222" stroke-width="1"/>
<line x1="651.5" y1="161.5" x2="648.3" y2="161.5" stroke="#ff0000" stroke-width="0.9"/>
<text x="374.6" y="164.7" font-size="10" text-anchor="end" fill="#111" >0.1</text>
<text x="655.3" y="164.7" font-size="10" text-anchor="start" fill="#ff0000" >0.1</text>
<line x1="378.8" y1="135.25" x2="380.8" y2="135.25" stroke="#222" stroke-width="1"/>
<line x1="651.5" y1="135.25" x2="649.5" y2="135.25" stroke="#ff0000" stroke-width="0.9"/>
<line x1="378.8" y1="109" x2="382" y2="109" stroke="#222" stroke-width="1"/>
<line x1="651.5" y1="109" x2="648.3" y2="109" stroke="#ff0000" stroke-width="0.9"/>
<text x="374.6" y="112.2" font-size="10" text-anchor="end" fill="#111" >0.2</text>
<text x="655.3" y="112.2" font-size="10" text-anchor="start" fill="#ff0000" >0.2</text>
<line x1="378.8" y1="82.75" x2="380.8" y2="82.75" stroke="#222" stroke-width="1"/>
<line x1="651.5" y1="82.75" x2="649.5" y2="82.75" stroke="#ff0000" stroke-width="0.9"/>
<line x1="378.8" y1="56.5" x2="382" y2="56.5" stroke="#222" stroke-width="1"/>
<line x1="651.5" y1="56.5" x2="648.3" y2="56.5" stroke="#ff0000" stroke-width="0.9"/>
<text x="374.6" y="59.7" font-size="10" text-anchor="end" fill="#111" >0.3</text>
<text x="655.3" y="59.7" font-size="10" text-anchor="start" fill="#ff0000" >0.3</text>
<line x1="378.8" y1="30.25" x2="380.8" y2="30.25" stroke="#222" stroke-width="1"/>
<line x1="651.5" y1="30.25" x2="649.5" y2="30.25" stroke="#ff0000" stroke-width="0.9"/>
<line x1="378.8" y1="4" x2="382" y2="4" stroke="#222" stroke-width="1"/>
<line x1="651.5" y1="4" x2="648.3" y2="4" stroke="#ff0000" stroke-width="0.9"/>
<text x="374.6" y="7.2" font-size="10" text-anchor="end" fill="#111" >0.4</text>
<text x="655.3" y="7.2" font-size="10" text-anchor="start" fill="#ff0000" >0.4</text>
<text x="515.65" y="242.3" font-size="11.4" text-anchor="middle" fill="#111" textLength="41.4" lengthAdjust="spacingAndGlyphs">Time(µs)</text>
<g transform="translate(354.9,112.6) rotate(-90)"><text x="0" y="0" font-size="11" text-anchor="middle" fill="#111"><tspan font-style="italic">K</tspan><tspan font-size="8" dy="3.2" dx="0.3">Id</tspan><tspan dy="-3.2" dx="5.8">(</tspan><tspan dx="0.6">MPa·m</tspan><tspan font-size="8" dy="-4.6" dx="0.3">1/2</tspan><tspan dy="4.6" dx="2.4">)</tspan></text></g>
<g transform="translate(682.2,112.3) rotate(-90)"><text x="0" y="0" font-size="11" text-anchor="middle" fill="#ff0000"><tspan font-style="italic">K</tspan><tspan font-size="8" dy="3.2" dx="0.3">ID</tspan><tspan dy="-3.2" dx="6.4">(</tspan><tspan dx="0.6">MPa·m</tspan><tspan font-size="8" dy="-4.6" dx="0.3">1/2</tspan><tspan dy="4.6" dx="2.4">)</tspan></text></g>
<rect x="33.5" y="299.7" width="273" height="210" fill="#fdf5f0"/>
<line x1="215.6" y1="427.6" x2="215.6" y2="509.7" stroke="#5555ff" stroke-width="1.5"/>
<line x1="229" y1="430.6" x2="229" y2="509.7" stroke="#5555ff" stroke-width="1.5"/>
<g clip-path="url(#clipc)">
<path d="M33.5,447.6 C35.32,447.33 40.78,446.52 44.42,446 C48.06,445.48 51.7,444.98 55.34,444.5 C58.98,444.02 62.62,443.53 66.26,443.1 C69.9,442.67 73.54,442.2 77.18,441.9 C80.82,441.6 84.46,441.5 88.1,441.3 C91.74,441.1 95.38,440.83 99.02,440.7 C102.66,440.57 106.3,440.6 109.94,440.5 C113.58,440.4 117.22,440.22 120.86,440.1 C124.5,439.98 128.14,440.05 131.78,439.8 C135.42,439.55 139.06,438.93 142.7,438.6 C146.34,438.27 149.98,438.13 153.62,437.8 C157.26,437.47 160.9,437.07 164.54,436.6 C168.18,436.13 171.82,435.45 175.46,435 C179.1,434.55 182.74,434.35 186.38,433.9 C190.02,433.45 193.66,432.8 197.3,432.3 C200.94,431.8 204.58,431.27 208.22,430.9 C211.86,430.53 215.5,430.33 219.14,430.1 C222.78,429.87 226.42,429.58 230.06,429.5 C233.7,429.42 237.34,429.42 240.98,429.6 C244.62,429.78 248.26,430.13 251.9,430.6 C255.54,431.07 259.18,431.62 262.82,432.4 C266.46,433.18 270.1,434.22 273.74,435.3 C277.38,436.38 281.02,437.57 284.66,438.9 C288.3,440.23 291.94,441.73 295.58,443.3 C299.22,444.87 304.68,447.47 306.5,448.3" fill="none" stroke="#444444" stroke-width="1"/>
<path d="M33.5,436.6 C35.32,436.35 40.78,435.58 44.42,435.1 C48.06,434.62 51.7,434.15 55.34,433.7 C58.98,433.25 62.62,432.78 66.26,432.4 C69.9,432.02 73.54,431.67 77.18,431.4 C80.82,431.13 84.46,431 88.1,430.8 C91.74,430.6 95.38,430.4 99.02,430.2 C102.66,430 106.3,429.82 109.94,429.6 C113.58,429.38 117.22,429.05 120.86,428.9 C124.5,428.75 128.14,428.8 131.78,428.7 C135.42,428.6 139.06,428.4 142.7,428.3 C146.34,428.2 149.98,428.15 153.62,428.1 C157.26,428.05 160.9,428.03 164.54,428 C168.18,427.97 171.82,427.93 175.46,427.9 C179.1,427.87 182.74,427.85 186.38,427.8 C190.02,427.75 193.66,427.65 197.3,427.6 C200.94,427.55 204.58,427.47 208.22,427.5 C211.86,427.53 215.5,427.65 219.14,427.8 C222.78,427.95 226.42,428.23 230.06,428.4 C233.7,428.57 237.34,428.57 240.98,428.8 C244.62,429.03 248.26,429.3 251.9,429.8 C255.54,430.3 259.18,430.97 262.82,431.8 C266.46,432.63 270.1,433.65 273.74,434.8 C277.38,435.95 281.02,437.3 284.66,438.7 C288.3,440.1 291.94,441.62 295.58,443.2 C299.22,444.78 304.68,447.37 306.5,448.2" fill="none" stroke="#444444" stroke-width="1"/>
<path d="M33.5,322.6 C34.59,323.35 37.87,325.6 40.05,327.1 C42.24,328.6 44.42,329.98 46.6,331.6 C48.79,333.22 50.97,334.95 53.16,336.8 C55.34,338.65 57.52,340.67 59.71,342.7 C61.89,344.73 64.08,346.92 66.26,349 C68.44,351.08 70.63,353.13 72.81,355.2 C75,357.27 77.18,359.32 79.36,361.4 C81.55,363.48 83.73,365.62 85.92,367.7 C88.1,369.78 90.28,371.95 92.47,373.9 C94.65,375.85 96.84,378.05 99.02,379.4 C101.2,380.75 103.39,381.57 105.57,382 C107.76,382.43 109.94,382.58 112.12,382 C114.31,381.42 116.49,379.73 118.68,378.5 C120.86,377.27 123.04,376.57 125.23,374.6 C127.41,372.63 129.6,368.93 131.78,366.7 C133.96,364.47 136.15,363.08 138.33,361.2 C140.52,359.32 142.7,357.25 144.88,355.4 C147.07,353.55 149.25,351.83 151.44,350.1 C153.62,348.37 155.8,346.55 157.99,345 C160.17,343.45 162.36,341.87 164.54,340.8 C166.72,339.73 168.91,339.27 171.09,338.6 C173.28,337.93 175.46,337.1 177.64,336.8 C179.83,336.5 182.01,336.45 184.2,336.8 C186.38,337.15 188.56,337.98 190.75,338.9 C192.93,339.82 195.12,340.87 197.3,342.3 C199.48,343.73 201.67,345.42 203.85,347.5 C206.04,349.58 208.22,351.73 210.4,354.8 C212.59,357.87 214.77,360.82 216.96,365.9 C219.14,370.98 221.75,377.88 223.51,385.3 C225.27,392.72 226.53,402.85 227.5,410.4 C228.47,417.95 228.95,424.4 229.3,430.6 C229.65,436.8 229.52,440.98 229.6,447.6 C229.68,454.22 229.77,466.52 229.8,470.3" fill="none" stroke="#ff0000" stroke-width="1"/>
<path d="M33.5,332.3 C34.59,333 37.87,335.27 40.05,336.5 C42.24,337.73 44.42,338.73 46.6,339.7 C48.79,340.67 50.97,341.38 53.16,342.3 C55.34,343.22 57.52,344.08 59.71,345.2 C61.89,346.32 64.08,347.33 66.26,349 C68.44,350.67 70.63,353.13 72.81,355.2 C75,357.27 77.18,359.2 79.36,361.4 C81.55,363.6 83.73,366.77 85.92,368.4 C88.1,370.03 90.28,370.57 92.47,371.2 C94.65,371.83 96.84,372.07 99.02,372.2 C101.2,372.33 103.39,372.03 105.57,372 C107.76,371.97 109.94,371.72 112.12,372 C114.31,372.28 116.49,373.45 118.68,373.7 C120.86,373.95 123.04,372.35 125.23,373.5 C127.41,374.65 129.6,378.72 131.78,380.6 C133.96,382.48 136.15,383.3 138.33,384.8 C140.52,386.3 142.7,388.05 144.88,389.6 C147.07,391.15 149.25,392.63 151.44,394.1 C153.62,395.57 155.8,396.75 157.99,398.4 C160.17,400.05 162.36,402.07 164.54,404 C166.72,405.93 168.91,408.58 171.09,410 C173.28,411.42 175.46,412.27 177.64,412.5 C179.83,412.73 182.01,412.05 184.2,411.4 C186.38,410.75 188.56,409.37 190.75,408.6 C192.93,407.83 195.12,407.03 197.3,406.8 C199.48,406.57 201.67,406.57 203.85,407.2 C206.04,407.83 208.41,407.18 210.4,410.6 C212.4,414.02 214.38,417.67 215.8,427.7 C217.22,437.73 218.38,463.62 218.9,470.8" fill="none" stroke="#ff0000" stroke-width="1"/>
<g fill="#000"><rect x="31.5" y="445.6" width="4" height="4"/><rect x="42.42" y="444" width="4" height="4"/><rect x="53.34" y="442.5" width="4" height="4"/><rect x="64.26" y="441.1" width="4" height="4"/><rect x="75.18" y="439.9" width="4" height="4"/><rect x="86.1" y="439.3" width="4" height="4"/><rect x="97.02" y="438.7" width="4" height="4"/><rect x="107.94" y="438.5" width="4" height="4"/><rect x="118.86" y="438.1" width="4" height="4"/><rect x="129.78" y="437.8" width="4" height="4"/><rect x="140.7" y="436.6" width="4" height="4"/><rect x="151.62" y="435.8" width="4" height="4"/><rect x="162.54" y="434.6" width="4" height="4"/><rect x="173.46" y="433" width="4" height="4"/><rect x="184.38" y="431.9" width="4" height="4"/><rect x="195.3" y="430.3" width="4" height="4"/><rect x="206.22" y="428.9" width="4" height="4"/><rect x="217.14" y="428.1" width="4" height="4"/><rect x="228.06" y="427.5" width="4" height="4"/><rect x="238.98" y="427.6" width="4" height="4"/><rect x="249.9" y="428.6" width="4" height="4"/><rect x="260.82" y="430.4" width="4" height="4"/><rect x="271.74" y="433.3" width="4" height="4"/><rect x="282.66" y="436.9" width="4" height="4"/><rect x="293.58" y="441.3" width="4" height="4"/><rect x="304.5" y="446.3" width="4" height="4"/><circle cx="33.5" cy="436.6" r="2.4"/><circle cx="44.42" cy="435.1" r="2.4"/><circle cx="55.34" cy="433.7" r="2.4"/><circle cx="66.26" cy="432.4" r="2.4"/><circle cx="77.18" cy="431.4" r="2.4"/><circle cx="88.1" cy="430.8" r="2.4"/><circle cx="99.02" cy="430.2" r="2.4"/><circle cx="109.94" cy="429.6" r="2.4"/><circle cx="120.86" cy="428.9" r="2.4"/><circle cx="131.78" cy="428.7" r="2.4"/><circle cx="142.7" cy="428.3" r="2.4"/><circle cx="153.62" cy="428.1" r="2.4"/><circle cx="164.54" cy="428" r="2.4"/><circle cx="175.46" cy="427.9" r="2.4"/><circle cx="186.38" cy="427.8" r="2.4"/><circle cx="197.3" cy="427.6" r="2.4"/><circle cx="208.22" cy="427.5" r="2.4"/><circle cx="219.14" cy="427.8" r="2.4"/><circle cx="230.06" cy="428.4" r="2.4"/><circle cx="240.98" cy="428.8" r="2.4"/><circle cx="251.9" cy="429.8" r="2.4"/><circle cx="262.82" cy="431.8" r="2.4"/><circle cx="273.74" cy="434.8" r="2.4"/><circle cx="284.66" cy="438.7" r="2.4"/><circle cx="295.58" cy="443.2" r="2.4"/><circle cx="306.5" cy="448.2" r="2.4"/></g>
<g fill="#ff0000"><rect x="31.6" y="320.7" width="3.8" height="3.8"/><rect x="38.15" y="325.2" width="3.8" height="3.8"/><rect x="44.7" y="329.7" width="3.8" height="3.8"/><rect x="51.26" y="334.9" width="3.8" height="3.8"/><rect x="57.81" y="340.8" width="3.8" height="3.8"/><rect x="64.36" y="347.1" width="3.8" height="3.8"/><rect x="70.91" y="353.3" width="3.8" height="3.8"/><rect x="77.46" y="359.5" width="3.8" height="3.8"/><rect x="84.02" y="365.8" width="3.8" height="3.8"/><rect x="90.57" y="372" width="3.8" height="3.8"/><rect x="97.12" y="377.5" width="3.8" height="3.8"/><rect x="103.67" y="380.1" width="3.8" height="3.8"/><rect x="110.22" y="380.1" width="3.8" height="3.8"/><rect x="116.78" y="376.6" width="3.8" height="3.8"/><rect x="123.33" y="372.7" width="3.8" height="3.8"/><rect x="129.88" y="364.8" width="3.8" height="3.8"/><rect x="136.43" y="359.3" width="3.8" height="3.8"/><rect x="142.98" y="353.5" width="3.8" height="3.8"/><rect x="149.54" y="348.2" width="3.8" height="3.8"/><rect x="156.09" y="343.1" width="3.8" height="3.8"/><rect x="162.64" y="338.9" width="3.8" height="3.8"/><rect x="169.19" y="336.7" width="3.8" height="3.8"/><rect x="175.74" y="334.9" width="3.8" height="3.8"/><rect x="182.3" y="334.9" width="3.8" height="3.8"/><rect x="188.85" y="337" width="3.8" height="3.8"/><rect x="195.4" y="340.4" width="3.8" height="3.8"/><rect x="201.95" y="345.6" width="3.8" height="3.8"/><rect x="208.5" y="352.9" width="3.8" height="3.8"/><rect x="215.06" y="364" width="3.8" height="3.8"/><rect x="221.61" y="383.4" width="3.8" height="3.8"/><rect x="225.6" y="408.5" width="3.8" height="3.8"/><rect x="227.7" y="445.7" width="3.8" height="3.8"/><rect x="227.9" y="468.4" width="3.8" height="3.8"/><circle cx="33.5" cy="332.3" r="2.15"/><circle cx="40.05" cy="336.5" r="2.15"/><circle cx="46.6" cy="339.7" r="2.15"/><circle cx="53.16" cy="342.3" r="2.15"/><circle cx="59.71" cy="345.2" r="2.15"/><circle cx="66.26" cy="349" r="2.15"/><circle cx="72.81" cy="355.2" r="2.15"/><circle cx="79.36" cy="361.4" r="2.15"/><circle cx="85.92" cy="368.4" r="2.15"/><circle cx="92.47" cy="371.2" r="2.15"/><circle cx="99.02" cy="372.2" r="2.15"/><circle cx="105.57" cy="372" r="2.15"/><circle cx="112.12" cy="372" r="2.15"/><circle cx="118.68" cy="373.7" r="2.15"/><circle cx="125.23" cy="373.5" r="2.15"/><circle cx="131.78" cy="380.6" r="2.15"/><circle cx="138.33" cy="384.8" r="2.15"/><circle cx="144.88" cy="389.6" r="2.15"/><circle cx="151.44" cy="394.1" r="2.15"/><circle cx="157.99" cy="398.4" r="2.15"/><circle cx="164.54" cy="404" r="2.15"/><circle cx="171.09" cy="410" r="2.15"/><circle cx="177.64" cy="412.5" r="2.15"/><circle cx="184.2" cy="411.4" r="2.15"/><circle cx="190.75" cy="408.6" r="2.15"/><circle cx="197.3" cy="406.8" r="2.15"/><circle cx="203.85" cy="407.2" r="2.15"/><circle cx="210.4" cy="410.6" r="2.15"/><circle cx="218.9" cy="470.8" r="2.15"/></g>
</g>
<circle cx="215.8" cy="427.6" r="3.1" fill="none" stroke="#0000ff" stroke-width="1.1"/>
<circle cx="229.3" cy="430.6" r="3.1" fill="none" stroke="#0000ff" stroke-width="1.1"/>
<rect x="177" y="476" width="36.4" height="14.6" fill="#b9c1f9"/>
<text x="195.2" y="487.1" font-size="10.3" text-anchor="middle" fill="#111" textLength="32.2" lengthAdjust="spacingAndGlyphs">268.6µs</text>
<rect x="231" y="476" width="35.5" height="14.9" fill="#b9c1f9"/>
<text x="248.75" y="487.4" font-size="10.3" text-anchor="middle" fill="#111" textLength="32.2" lengthAdjust="spacingAndGlyphs">284.8µs</text>
<rect x="60.6" y="397.6" width="91.3" height="14.9" fill="#fff" stroke="#777" stroke-width="0.8"/>
<text x="106.25" y="409" font-size="10.9" text-anchor="middle" fill="#111" textLength="88.6" lengthAdjust="spacingAndGlyphs">Crack initiation point</text>
<line x1="152.4" y1="402.3" x2="206.83" y2="425.26" stroke="#1010ff" stroke-width="1.2" stroke-dasharray="1.1,0.9"/>
<polygon points="211.9,427.4 205.9,427.47 207.77,423.05" fill="#1111ff"/>
<line x1="152.4" y1="402.3" x2="222.38" y2="425.47" stroke="#1010ff" stroke-width="1.2" stroke-dasharray="1.1,0.9"/>
<polygon points="227.6,427.2 221.62,427.75 223.13,423.19" fill="#1111ff"/>
<rect x="248.8" y="307.8" width="47.4" height="26.9" fill="#000"/>
<rect x="246.3" y="305.2" width="47.4" height="26.9" fill="#b3e3fc" stroke="#3c4850" stroke-width="0.8"/>
<line x1="246.8" y1="312.8" x2="266.8" y2="312.8" stroke="#666" stroke-width="1.2"/>
<line x1="246.8" y1="325.6" x2="266.8" y2="325.6" stroke="#666" stroke-width="1.2"/>
<rect x="255" y="310.9" width="3.8" height="3.8" fill="#000"/>
<circle cx="256.9" cy="325.6" r="2.1" fill="#000"/>
<text x="271.3" y="316.4" font-size="10.6" text-anchor="start" fill="#111" textLength="20.6" lengthAdjust="spacingAndGlyphs">51°C</text>
<text x="271.3" y="329.2" font-size="10.6" text-anchor="start" fill="#111" textLength="20.6" lengthAdjust="spacingAndGlyphs">57°C</text>
<line x1="33.5" y1="299.7" x2="306.5" y2="299.7" stroke="#555" stroke-width="1.1"/>
<line x1="33.5" y1="299.2" x2="33.5" y2="510.2" stroke="#1a1a1a" stroke-width="1.3"/>
<line x1="33" y1="509.7" x2="306.5" y2="509.7" stroke="#222" stroke-width="1.3"/>
<line x1="306.5" y1="299.2" x2="306.5" y2="510.2" stroke="#ff0000" stroke-width="1.2"/>
<line x1="33.5" y1="509.7" x2="33.5" y2="506.5" stroke="#222" stroke-width="1"/>
<text x="33.5" y="521.7" font-size="10" text-anchor="middle" fill="#111" >100</text>
<line x1="60.8" y1="509.7" x2="60.8" y2="507.7" stroke="#222" stroke-width="1"/>
<line x1="88.1" y1="509.7" x2="88.1" y2="506.5" stroke="#222" stroke-width="1"/>
<text x="88.1" y="521.7" font-size="10" text-anchor="middle" fill="#111" >150</text>
<line x1="115.4" y1="509.7" x2="115.4" y2="507.7" stroke="#222" stroke-width="1"/>
<line x1="142.7" y1="509.7" x2="142.7" y2="506.5" stroke="#222" stroke-width="1"/>
<text x="142.7" y="521.7" font-size="10" text-anchor="middle" fill="#111" >200</text>
<line x1="170" y1="509.7" x2="170" y2="507.7" stroke="#222" stroke-width="1"/>
<line x1="197.3" y1="509.7" x2="197.3" y2="506.5" stroke="#222" stroke-width="1"/>
<text x="197.3" y="521.7" font-size="10" text-anchor="middle" fill="#111" >250</text>
<line x1="224.6" y1="509.7" x2="224.6" y2="507.7" stroke="#222" stroke-width="1"/>
<line x1="251.9" y1="509.7" x2="251.9" y2="506.5" stroke="#222" stroke-width="1"/>
<text x="251.9" y="521.7" font-size="10" text-anchor="middle" fill="#111" >300</text>
<line x1="279.2" y1="509.7" x2="279.2" y2="507.7" stroke="#222" stroke-width="1"/>
<line x1="306.5" y1="509.7" x2="306.5" y2="506.5" stroke="#222" stroke-width="1"/>
<text x="306.5" y="521.7" font-size="10" text-anchor="middle" fill="#111" >350</text>
<line x1="33.5" y1="509.7" x2="36.7" y2="509.7" stroke="#222" stroke-width="1"/>
<line x1="306.5" y1="509.7" x2="303.3" y2="509.7" stroke="#ff0000" stroke-width="0.9"/>
<text x="29.3" y="512.9" font-size="10" text-anchor="end" fill="#111" >0.0</text>
<text x="310.3" y="512.9" font-size="10" text-anchor="start" fill="#ff0000" >0.0</text>
<line x1="33.5" y1="483.45" x2="35.5" y2="483.45" stroke="#222" stroke-width="1"/>
<line x1="306.5" y1="483.45" x2="304.5" y2="483.45" stroke="#ff0000" stroke-width="0.9"/>
<line x1="33.5" y1="457.2" x2="36.7" y2="457.2" stroke="#222" stroke-width="1"/>
<line x1="306.5" y1="457.2" x2="303.3" y2="457.2" stroke="#ff0000" stroke-width="0.9"/>
<text x="29.3" y="460.4" font-size="10" text-anchor="end" fill="#111" >0.1</text>
<text x="310.3" y="460.4" font-size="10" text-anchor="start" fill="#ff0000" >0.1</text>
<line x1="33.5" y1="430.95" x2="35.5" y2="430.95" stroke="#222" stroke-width="1"/>
<line x1="306.5" y1="430.95" x2="304.5" y2="430.95" stroke="#ff0000" stroke-width="0.9"/>
<line x1="33.5" y1="404.7" x2="36.7" y2="404.7" stroke="#222" stroke-width="1"/>
<line x1="306.5" y1="404.7" x2="303.3" y2="404.7" stroke="#ff0000" stroke-width="0.9"/>
<text x="29.3" y="407.9" font-size="10" text-anchor="end" fill="#111" >0.2</text>
<text x="310.3" y="407.9" font-size="10" text-anchor="start" fill="#ff0000" >0.2</text>
<line x1="33.5" y1="378.45" x2="35.5" y2="378.45" stroke="#222" stroke-width="1"/>
<line x1="306.5" y1="378.45" x2="304.5" y2="378.45" stroke="#ff0000" stroke-width="0.9"/>
<line x1="33.5" y1="352.2" x2="36.7" y2="352.2" stroke="#222" stroke-width="1"/>
<line x1="306.5" y1="352.2" x2="303.3" y2="352.2" stroke="#ff0000" stroke-width="0.9"/>
<text x="29.3" y="355.4" font-size="10" text-anchor="end" fill="#111" >0.3</text>
<text x="310.3" y="355.4" font-size="10" text-anchor="start" fill="#ff0000" >0.3</text>
<line x1="33.5" y1="325.95" x2="35.5" y2="325.95" stroke="#222" stroke-width="1"/>
<line x1="306.5" y1="325.95" x2="304.5" y2="325.95" stroke="#ff0000" stroke-width="0.9"/>
<line x1="33.5" y1="299.7" x2="36.7" y2="299.7" stroke="#222" stroke-width="1"/>
<line x1="306.5" y1="299.7" x2="303.3" y2="299.7" stroke="#ff0000" stroke-width="0.9"/>
<text x="29.3" y="302.9" font-size="10" text-anchor="end" fill="#111" >0.4</text>
<text x="310.3" y="302.9" font-size="10" text-anchor="start" fill="#ff0000" >0.4</text>
<text x="170" y="538" font-size="11.4" text-anchor="middle" fill="#111" textLength="41.4" lengthAdjust="spacingAndGlyphs">Time(µs)</text>
<g transform="translate(9.6,408.3) rotate(-90)"><text x="0" y="0" font-size="11" text-anchor="middle" fill="#111"><tspan font-style="italic">K</tspan><tspan font-size="8" dy="3.2" dx="0.3">Id</tspan><tspan dy="-3.2" dx="5.8">(</tspan><tspan dx="0.6">MPa·m</tspan><tspan font-size="8" dy="-4.6" dx="0.3">1/2</tspan><tspan dy="4.6" dx="2.4">)</tspan></text></g>
<g transform="translate(337.2,408) rotate(-90)"><text x="0" y="0" font-size="11" text-anchor="middle" fill="#ff0000"><tspan font-style="italic">K</tspan><tspan font-size="8" dy="3.2" dx="0.3">ID</tspan><tspan dy="-3.2" dx="6.4">(</tspan><tspan dx="0.6">MPa·m</tspan><tspan font-size="8" dy="-4.6" dx="0.3">1/2</tspan><tspan dy="4.6" dx="2.4">)</tspan></text></g>
<rect x="378.8" y="299.6" width="272.8" height="209.8" fill="#fdf5f0"/>
<rect x="401.5" y="362.78" width="23" height="146.62" fill="url(#hatch)" stroke="#222" stroke-width="0.9"/>
<rect x="424.5" y="394.55" width="23" height="114.85" fill="#b6bdfb" stroke="#667" stroke-width="0.7"/>
<line x1="424.5" y1="362.78" x2="447.5" y2="362.78" stroke="#999" stroke-width="1"/>
<line x1="436" y1="364.78" x2="436" y2="392.55" stroke="#a8a8a8" stroke-width="1.3"/>
<polygon points="436,363.28 433.8,367.38 438.2,367.38" fill="#000"/>
<polygon points="436,394.05 433.8,389.95 438.2,389.95" fill="#000"/>
<rect x="492.4" y="342.52" width="23" height="166.88" fill="url(#hatch)" stroke="#222" stroke-width="0.9"/>
<rect x="515.4" y="352.71" width="23" height="156.69" fill="#b6bdfb" stroke="#667" stroke-width="0.7"/>
<line x1="515.4" y1="342.52" x2="538.4" y2="342.52" stroke="#999" stroke-width="1"/>
<line x1="526.9" y1="344.52" x2="526.9" y2="350.71" stroke="#a8a8a8" stroke-width="1.3"/>
<polygon points="526.9,343.02 524.7,347.12 529.1,347.12" fill="#000"/>
<polygon points="526.9,352.21 524.7,348.11 529.1,348.11" fill="#000"/>
<rect x="583.3" y="338.68" width="23" height="170.72" fill="url(#hatch)" stroke="#222" stroke-width="0.9"/>
<rect x="606.3" y="348.39" width="23" height="161.01" fill="#b6bdfb" stroke="#667" stroke-width="0.7"/>
<line x1="606.3" y1="338.68" x2="629.3" y2="338.68" stroke="#999" stroke-width="1"/>
<line x1="617.8" y1="340.68" x2="617.8" y2="346.39" stroke="#a8a8a8" stroke-width="1.3"/>
<polygon points="617.8,339.18 615.6,343.28 620,343.28" fill="#000"/>
<polygon points="617.8,347.89 615.6,343.79 620,343.79" fill="#000"/>
<text x="437" y="382.5" font-size="9.6" text-anchor="start" fill="#111" textLength="18.4" lengthAdjust="spacingAndGlyphs">53µs</text>
<text x="537.6" y="351.7" font-size="9.8" text-anchor="start" fill="#111" textLength="18.0" lengthAdjust="spacingAndGlyphs">17µs</text>
<text x="625.6" y="346.8" font-size="9.4" text-anchor="start" fill="#111" textLength="24.6" lengthAdjust="spacingAndGlyphs">16.2µs</text>
<rect x="591.9" y="307" width="47.8" height="27" fill="#000"/>
<rect x="589.4" y="304.4" width="47.8" height="27" fill="#b3e3fc" stroke="#3c4850" stroke-width="0.8"/>
<rect x="590.9" y="307.0" width="18.8" height="9.0" fill="url(#hatch)" stroke="#333" stroke-width="0.7"/>
<rect x="590.9" y="319.7" width="18.8" height="9.2" fill="#b6bdfb" stroke="#555" stroke-width="0.7"/>
<text x="614.5" y="315.4" font-size="10.6" text-anchor="start" fill="#111" textLength="20.4" lengthAdjust="spacingAndGlyphs">51°C</text>
<text x="614.5" y="328.2" font-size="10.6" text-anchor="start" fill="#111" textLength="20.4" lengthAdjust="spacingAndGlyphs">57°C</text>
<line x1="378.8" y1="299.6" x2="651.6" y2="299.6" stroke="#555" stroke-width="1.1"/>
<line x1="378.8" y1="299.1" x2="378.8" y2="509.9" stroke="#222" stroke-width="1.1"/>
<line x1="378.3" y1="509.4" x2="652.1" y2="509.4" stroke="#222" stroke-width="1.1"/>
<line x1="651.6" y1="299.1" x2="651.6" y2="509.9" stroke="#444" stroke-width="1.1"/>
<line x1="378.8" y1="509.4" x2="382" y2="509.4" stroke="#333" stroke-width="0.9"/>
<text x="374.5" y="512.8" font-size="10" text-anchor="end" fill="#111" >0</text>
<line x1="378.8" y1="494.41" x2="380.8" y2="494.41" stroke="#333" stroke-width="0.9"/>
<line x1="378.8" y1="479.43" x2="382" y2="479.43" stroke="#333" stroke-width="0.9"/>
<text x="374.5" y="482.83" font-size="10" text-anchor="end" fill="#111" >50</text>
<line x1="378.8" y1="464.44" x2="380.8" y2="464.44" stroke="#333" stroke-width="0.9"/>
<line x1="378.8" y1="449.46" x2="382" y2="449.46" stroke="#333" stroke-width="0.9"/>
<text x="374.5" y="452.86" font-size="10" text-anchor="end" fill="#111" >100</text>
<line x1="378.8" y1="434.47" x2="380.8" y2="434.47" stroke="#333" stroke-width="0.9"/>
<line x1="378.8" y1="419.49" x2="382" y2="419.49" stroke="#333" stroke-width="0.9"/>
<text x="374.5" y="422.89" font-size="10" text-anchor="end" fill="#111" >150</text>
<line x1="378.8" y1="404.5" x2="380.8" y2="404.5" stroke="#333" stroke-width="0.9"/>
<line x1="378.8" y1="389.51" x2="382" y2="389.51" stroke="#333" stroke-width="0.9"/>
<text x="374.5" y="392.91" font-size="10" text-anchor="end" fill="#111" >200</text>
<line x1="378.8" y1="374.53" x2="380.8" y2="374.53" stroke="#333" stroke-width="0.9"/>
<line x1="378.8" y1="359.54" x2="382" y2="359.54" stroke="#333" stroke-width="0.9"/>
<text x="374.5" y="362.94" font-size="10" text-anchor="end" fill="#111" >250</text>
<line x1="378.8" y1="344.56" x2="380.8" y2="344.56" stroke="#333" stroke-width="0.9"/>
<line x1="378.8" y1="329.57" x2="382" y2="329.57" stroke="#333" stroke-width="0.9"/>
<text x="374.5" y="332.97" font-size="10" text-anchor="end" fill="#111" >300</text>
<line x1="378.8" y1="314.59" x2="380.8" y2="314.59" stroke="#333" stroke-width="0.9"/>
<line x1="378.8" y1="299.6" x2="382" y2="299.6" stroke="#333" stroke-width="0.9"/>
<text x="374.5" y="303" font-size="10" text-anchor="end" fill="#111" >350</text>
<line x1="424.5" y1="509.4" x2="424.5" y2="506.2" stroke="#333" stroke-width="0.9"/>
<text x="424.5" y="521.8" font-size="10" text-anchor="middle" fill="#111" >2</text>
<line x1="515.4" y1="509.4" x2="515.4" y2="506.2" stroke="#333" stroke-width="0.9"/>
<text x="515.4" y="521.8" font-size="10" text-anchor="middle" fill="#111" >8</text>
<line x1="606.3" y1="509.4" x2="606.3" y2="506.2" stroke="#333" stroke-width="0.9"/>
<text x="606.3" y="521.8" font-size="10" text-anchor="middle" fill="#111" >14</text>
<line x1="469.9" y1="509.4" x2="469.9" y2="507.4" stroke="#333" stroke-width="0.9"/>
<line x1="560.8" y1="509.4" x2="560.8" y2="507.4" stroke="#333" stroke-width="0.9"/>
<text x="493.9" y="535.3" font-size="11" fill="#111"><tspan font-style="italic">σ</tspan><tspan font-size="8.4" dy="2.6">w</tspan></text>
<text x="507.4" y="534.6" font-size="11" fill="#111">(MPa)</text>
<g transform="translate(354.6,407) rotate(-90)"><text x="0" y="0" font-size="11" text-anchor="middle" fill="#111" xml:space="preserve">The time of  crack initiation point(µs)</text></g>
<text x="129.5" y="277" font-size="12.6" fill="#111" style="stroke-width:0.1px">(</text>
<text x="136.1" y="278.4" font-size="12.8" fill="#111">a</text>
<text x="144" y="277" font-size="12.6" fill="#111" style="stroke-width:0.1px">)</text>
<text x="155.5" y="278.4" font-size="15" font-style="italic" fill="#111">σ</text>
<text x="163.9" y="280.9" font-size="9.8" fill="#111">w</text>
<text x="170.8" y="278.4" font-size="13.2" fill="#111" textLength="40.6" lengthAdjust="spacingAndGlyphs">=2MPa</text>
<text x="477.5" y="277.2" font-size="12.6" fill="#111" style="stroke-width:0.1px">(</text>
<text x="484.1" y="278.6" font-size="12.8" fill="#111">b</text>
<text x="492" y="277.2" font-size="12.6" fill="#111" style="stroke-width:0.1px">)</text>
<text x="503.5" y="278.6" font-size="15" font-style="italic" fill="#111">σ</text>
<text x="511.9" y="281.1" font-size="9.8" fill="#111">w</text>
<text x="518.8" y="278.6" font-size="13.2" fill="#111" textLength="40.6" lengthAdjust="spacingAndGlyphs">=8MPa</text>
<text x="109.3" y="572.5" font-size="12.6" fill="#111" style="stroke-width:0.1px">(</text>
<text x="115.9" y="573.9" font-size="12.8" fill="#111">c</text>
<text x="123.8" y="572.5" font-size="12.6" fill="#111" style="stroke-width:0.1px">)</text>
<text x="135.3" y="573.9" font-size="15" font-style="italic" fill="#111">σ</text>
<text x="143.7" y="576.4" font-size="9.8" fill="#111">w</text>
<text x="150.6" y="573.9" font-size="13.2" fill="#111" textLength="46.3" lengthAdjust="spacingAndGlyphs">=14MPa</text>
<text x="397.9" y="572.5" font-size="12.6" fill="#111" style="stroke-width:0.1px">(</text>
<text x="404.5" y="573.9" font-size="12.8" fill="#111">d</text>
<text x="412.4" y="572.5" font-size="12.6" fill="#111" style="stroke-width:0.1px">)</text>
<text x="424.1" y="573.9" font-size="13.2" fill="#111" textLength="206.4" lengthAdjust="spacingAndGlyphs">Time variation of crack initiation point</text>
</svg>
</body></html>
